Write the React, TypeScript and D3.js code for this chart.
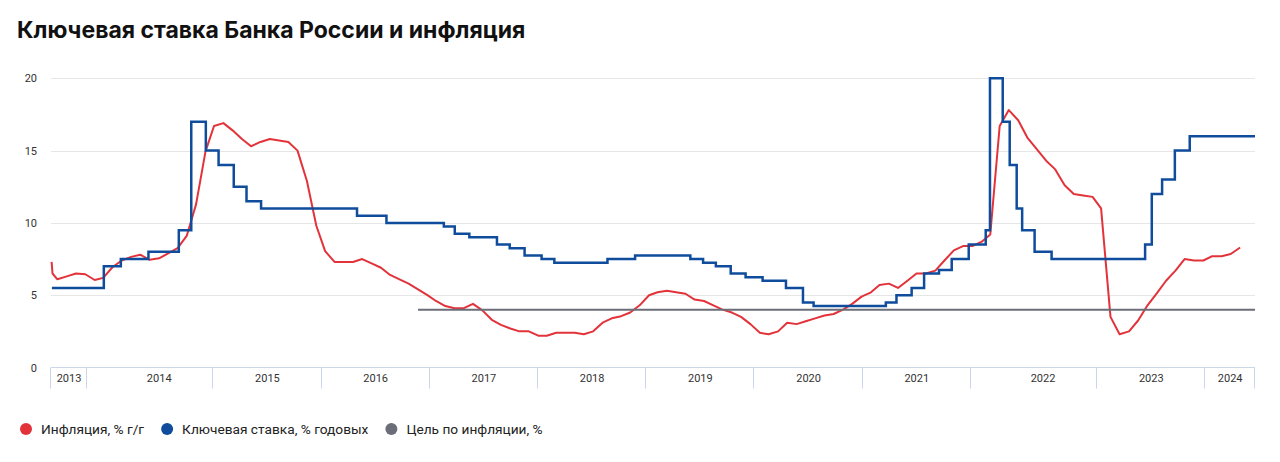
import React, { useEffect, useRef } from 'react';
import * as d3 from 'd3';

const TITLE = 'Ключевая ставка Банка России и инфляция';

// Inflation, % y/y, one value per month starting September 2013
const INFLATION_FIRST_MONTH = '2013-09';
const INFLATION_VALUES = [
  6.1, 6.3, 6.5, 6.45, // 2013
  6.05, 6.2, 6.95, 7.4, 7.65, 7.8, 7.45, 7.55, 7.9, 8.25, 9.1, 11.3, // 2014
  14.95, 16.7, 16.9, 16.4, 15.8, 15.3, 15.6, 15.8, 15.7, 15.6, 15.0, 12.9, // 2015
  9.8, 8.05, 7.3, 7.3, 7.3, 7.5, 7.2, 6.9, 6.4, 6.1, 5.8, 5.4, // 2016
  5.0, 4.6, 4.25, 4.1, 4.1, 4.4, 3.95, 3.3, 2.95, 2.7, 2.5, 2.5, // 2017
  2.2, 2.2, 2.4, 2.4, 2.4, 2.3, 2.5, 3.1, 3.4, 3.55, 3.8, 4.3, // 2018
  5.0, 5.2, 5.3, 5.2, 5.1, 4.7, 4.6, 4.3, 4.0, 3.8, 3.5, 3.0, // 2019
  2.4, 2.3, 2.5, 3.1, 3.0, 3.2, 3.4, 3.6, 3.7, 4.0, 4.4, 4.9, // 2020
  5.2, 5.7, 5.8, 5.5, 6.0, 6.5, 6.5, 6.7, 7.4, 8.1, 8.4, 8.4, // 2021
  8.7, 9.2, 16.7, 17.8, 17.1, 15.9, 15.1, 14.3, 13.7, 12.6, 12.0, 11.9, // 2022
  11.8, 11.0, 3.5, 2.3, 2.5, 3.25, 4.3, 5.15, 6.0, 6.7, 7.5, 7.4, // 2023
  7.4, 7.7, 7.7, 7.85, 8.3, // 2024
];
// short tick at the very start of the red line
const INFLATION_LEAD_DATES = ['2013-09-12', '2013-09-15'];
const INFLATION_LEAD_VALUES = [7.3, 6.5];

// Key rate decisions (date the new rate takes effect)
const KEY_RATE_DATES = [
  '2013-09-13', '2014-03-03', '2014-04-28', '2014-07-28', '2014-11-05', '2014-12-16',
  '2015-02-02', '2015-03-16', '2015-05-05', '2015-06-16', '2015-08-03',
  '2016-06-14', '2016-09-19',
  '2017-03-27', '2017-05-02', '2017-06-19', '2017-09-18', '2017-10-30', '2017-12-18',
  '2018-02-12', '2018-03-26', '2018-09-17', '2018-12-17',
  '2019-06-17', '2019-07-29', '2019-09-09', '2019-10-28', '2019-12-16',
  '2020-02-10', '2020-04-27', '2020-06-22', '2020-07-27',
  '2021-03-22', '2021-04-26', '2021-06-15', '2021-07-26', '2021-09-13', '2021-10-25', '2021-12-20',
  '2022-02-14', '2022-02-28', '2022-04-11', '2022-05-04', '2022-05-27', '2022-06-14', '2022-07-25', '2022-09-19',
  '2023-07-24', '2023-08-15', '2023-09-18', '2023-10-30', '2023-12-18',
];
const KEY_RATE_VALUES = [
  5.5, 7, 7.5, 8, 9.5, 17,
  15, 14, 12.5, 11.5, 11,
  10.5, 10,
  9.75, 9.25, 9, 8.5, 8.25, 7.75,
  7.5, 7.25, 7.5, 7.75,
  7.5, 7.25, 7, 6.5, 6.25,
  6, 5.5, 4.5, 4.25,
  4.5, 5, 5.5, 6.5, 6.75, 7.5, 8.5,
  9.5, 20, 17, 14, 11, 9.5, 8, 7.5,
  8.5, 12, 13, 15, 16,
];

const TARGET_START = '2017-01-01';
const TARGET_VALUE = 4;

const X_START = '2013-09-10';
const X_END = '2024-07-20';

const Y_TICKS = [0, 5, 10, 15, 20];
const YEAR_LABELS = ['2013', '2014', '2015', '2016', '2017', '2018', '2019', '2020', '2021', '2022', '2023', '2024'];
// width of each year band on the bottom axis, in months
const YEAR_BAND_MONTHS = [4, 14, 12, 12, 12, 12, 12, 12, 12, 14, 12, 5.5];

const LEGEND_LABELS = ['Инфляция, % г/г', 'Ключевая ставка, % годовых', 'Цель по инфляции, %'];

const RED = '#e2333b';
const BLUE = '#0f4c9c';
const GRAY = '#6b6e78';
const LEGEND_COLORS = [RED, BLUE, GRAY];

const FONT = 'Roboto, "Noto Sans", sans-serif';

const App: React.FC = () => {
  const svgRef = useRef<SVGSVGElement>(null);

  useEffect(() => {
    document.body.style.margin = '0';
    if (!svgRef.current) return;
    const svg = d3.select(svgRef.current);
    svg.selectAll('*').remove();

    const parse = d3.timeParse('%Y-%m-%d');
    const left = 51;
    const right = 1255;
    const top = 78.3;
    const bottom = 367.5;

    const x = d3.scaleTime().domain([parse(X_START)!, parse(X_END)!]).range([left, right]);
    const y = d3.scaleLinear().domain([0, 20]).range([bottom, top]);

    svg.append('rect').attr('width', 1280).attr('height', 462).attr('fill', '#fff');

    svg.append('text')
      .attr('x', 17)
      .attr('y', 37.5)
      .attr('font-family', 'Inter, Roboto, sans-serif')
      .attr('font-weight', 700)
      .attr('font-size', 23)
      .attr('fill', '#111')
      .text(TITLE);

    // horizontal grid
    svg.selectAll('.grid')
      .data(Y_TICKS.filter(d => d > 0))
      .enter()
      .append('line')
      .attr('x1', left)
      .attr('x2', right)
      .attr('y1', d => Math.round(y(d)) + 0.5)
      .attr('y2', d => Math.round(y(d)) + 0.5)
      .attr('stroke', '#e6e6e6');

    svg.selectAll('.ylabel')
      .data(Y_TICKS)
      .enter()
      .append('text')
      .attr('x', 37)
      .attr('y', d => y(d) + 4)
      .attr('text-anchor', 'end')
      .attr('font-family', FONT)
      .attr('font-size', 11)
      .attr('fill', '#333')
      .text(d => d);

    // year bands on the bottom axis
    const bandTotal = d3.sum(YEAR_BAND_MONTHS);
    const band = d3.scaleLinear().domain([0, bandTotal]).range([left, right]);
    const edges = [0, ...d3.cumsum(YEAR_BAND_MONTHS)];

    svg.append('line')
      .attr('x1', left)
      .attr('x2', right)
      .attr('y1', bottom)
      .attr('y2', bottom)
      .attr('stroke', '#ccd6eb');

    svg.selectAll('.sep')
      .data(edges)
      .enter()
      .append('line')
      .attr('x1', d => Math.round(band(d)) - 0.5)
      .attr('x2', d => Math.round(band(d)) - 0.5)
      .attr('y1', bottom)
      .attr('y2', bottom + 21)
      .attr('stroke', '#ccd6eb');

    // label sits over the last twelve months of a band
    svg.selectAll('.year')
      .data(YEAR_LABELS)
      .enter()
      .append('text')
      .attr('x', (d, i) => {
        const start = Math.max(edges[i], edges[i + 1] - 12);
        return band((start + edges[i + 1]) / 2);
      })
      .attr('y', bottom + 14)
      .attr('text-anchor', 'middle')
      .attr('font-family', FONT)
      .attr('font-size', 11)
      .attr('fill', '#333')
      .text(d => d);

    // inflation
    const monthStart = d3.timeParse('%Y-%m')(INFLATION_FIRST_MONTH)!;
    const inflation: [Date, number][] = [
      ...INFLATION_LEAD_DATES.map((d, i) => [parse(d)!, INFLATION_LEAD_VALUES[i]] as [Date, number]),
      ...INFLATION_VALUES.map((v, i) => [d3.timeMonth.offset(monthStart, i + 1), v] as [Date, number]),
    ];
    const line = d3.line<[Date, number]>().x(d => x(d[0])).y(d => y(d[1]));

    svg.append('path')
      .datum(inflation)
      .attr('d', line)
      .attr('fill', 'none')
      .attr('stroke', RED)
      .attr('stroke-width', 2)
      .attr('stroke-linejoin', 'round');

    // key rate
    const rate: [Date, number][] = KEY_RATE_DATES.map((d, i) => [parse(d)!, KEY_RATE_VALUES[i]] as [Date, number]);
    rate.push([parse(X_END)!, KEY_RATE_VALUES[KEY_RATE_VALUES.length - 1]]);
    svg.append('path')
      .datum(rate)
      .attr('d', line.curve(d3.curveStepAfter))
      .attr('fill', 'none')
      .attr('stroke', BLUE)
      .attr('stroke-width', 2.5);
    line.curve(d3.curveLinear);

    // inflation target
    const target: [Date, number][] = [[parse(TARGET_START)!, TARGET_VALUE], [parse(X_END)!, TARGET_VALUE]];
    svg.append('path')
      .datum(target)
      .attr('d', line)
      .attr('fill', 'none')
      .attr('stroke', GRAY)
      .attr('stroke-width', 2);

    // legend
    let lx = 26;
    LEGEND_LABELS.forEach((label, i) => {
      svg.append('circle')
        .attr('cx', lx)
        .attr('cy', 429)
        .attr('r', 6)
        .attr('fill', LEGEND_COLORS[i]);
      const t = svg.append('text')
        .attr('x', lx + 15)
        .attr('y', 434)
        .attr('font-family', FONT)
        .attr('font-size', 13.7)
        .attr('fill', '#222')
        .text(label);
      const w = (t.node() as SVGTextElement).getComputedTextLength();
      lx = lx + 15 + w + 23;
    });
  }, []);

  return (
    <svg
      ref={svgRef}
      width={1280}
      height={462}
      style={{ position: 'absolute', left: 0, top: 0, display: 'block' }}
    />
  );
};

export default App;
